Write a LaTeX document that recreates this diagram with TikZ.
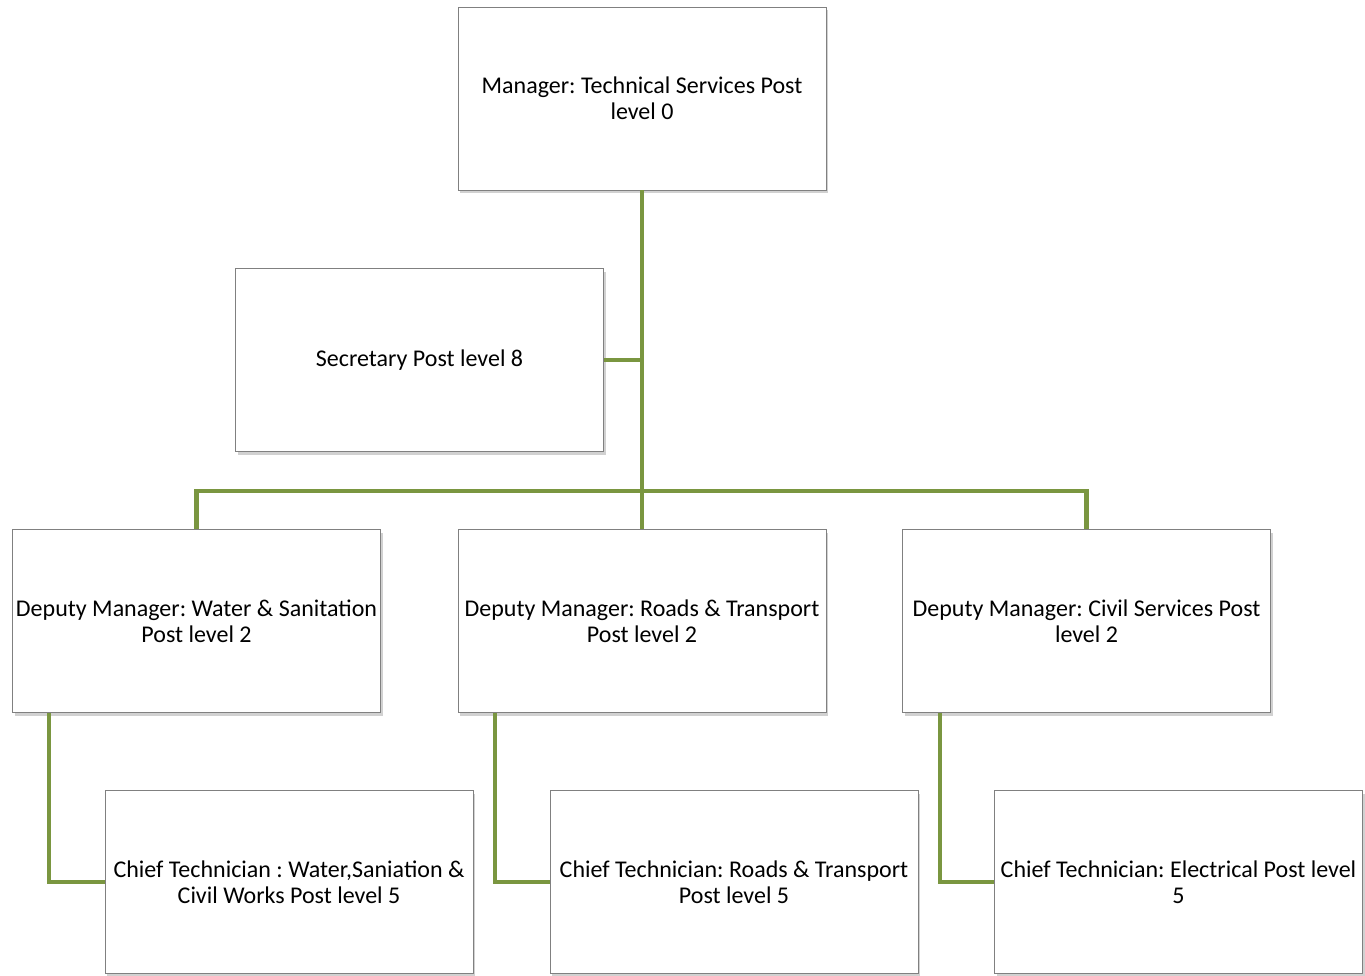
\documentclass[tikz,border=0pt]{standalone}
\usepackage{fontspec}
\setmainfont{Carlito}
\usetikzlibrary{shadows}
\definecolor{olive}{RGB}{122,150,64}
\definecolor{boxline}{RGB}{128,128,128}
\frenchspacing
\begin{document}
\begin{tikzpicture}[x=1pt,y=-1pt,
  box/.style={draw=boxline,line width=0.8pt,fill=white,minimum width=368pt,minimum height=183pt,
    align=center,inner sep=0pt,font=\fontsize{24}{26}\selectfont\frenchspacing,
    drop shadow={shadow xshift=2pt,shadow yshift=-3pt,opacity=0.3,fill=black!60}},
  link/.style={draw=olive,line width=4.5pt}]
\useasboundingbox (0,0) rectangle (1365,975);
\node[box] (mgr) at (642,98.5) {Manager: Technical Services Post\\level 0};
\node[box] (sec) at (419.5,360) {Secretary Post level 8};
\node[box] (d1) at (196.5,621) {Deputy Manager: Water \& Sanitation\\Post level 2};
\node[box] (d2) at (642,621) {Deputy Manager: Roads \& Transport\\Post level 2};
\node[box] (d3) at (1086.5,621) {Deputy Manager: Civil Services Post\\level 2};
\node[box] (c1) at (289,882) {Chief Technician : Water,Saniation \&\\Civil Works Post level 5};
\node[box] (c2) at (734,882) {Chief Technician: Roads \& Transport\\Post level 5};
\node[box] (c3) at (1178.5,882) {Chief Technician: Electrical Post level\\5};
\coordinate (bar) at (642,491);
\path[link] (mgr.south) -- (bar);
\path[link] (sec.east) -- (sec.east -| mgr.south);
\path[link] (d1.north) |- (bar) -| (d3.north);
\path[link] (bar) -- (d2.north);
\path[link] ([xshift=-147.5pt]d1.south) |- (c1.west);
\path[link] ([xshift=-147pt]d2.south) |- (c2.west);
\path[link] ([xshift=-146.5pt]d3.south) |- (c3.west);
\end{tikzpicture}
\end{document}
